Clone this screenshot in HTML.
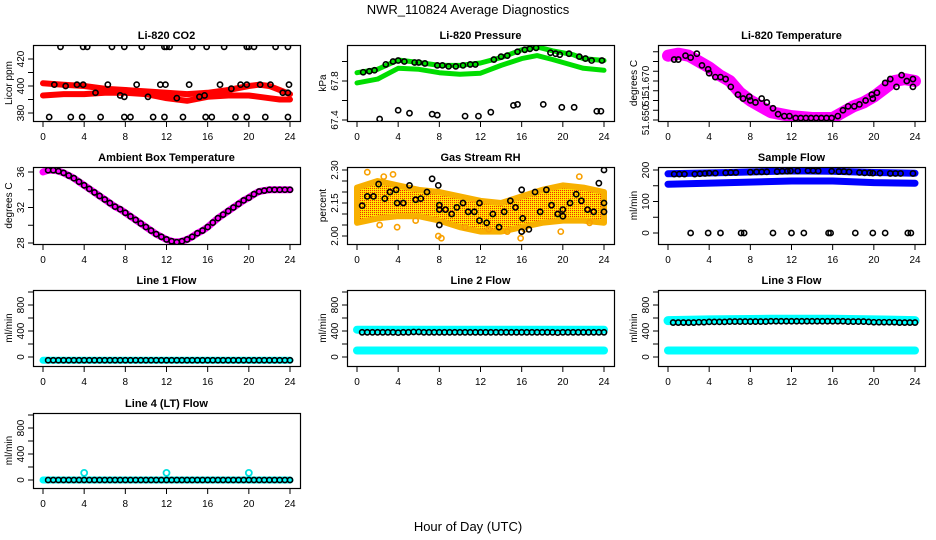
<!DOCTYPE html>
<html><head><meta charset="utf-8">
<style>
html,body{margin:0;padding:0;background:#fff;}
svg{display:block;font-family:"Liberation Sans",sans-serif;}
</style></head>
<body>
<svg id="chart" width="936" height="540" viewBox="0 0 936 540">
<defs>
<pattern id="rhpat" width="2" height="2" patternUnits="userSpaceOnUse">
<rect width="2" height="2" fill="#ffd800"/><rect width="1" height="1" fill="#f03000"/><rect x="1" y="1" width="1" height="1" fill="#ffee00"/>
</pattern>
</defs>
<text x="468" y="14" text-anchor="middle" font-size="13">NWR_110824  Average Diagnostics</text>
<text x="468" y="531" text-anchor="middle" font-size="13">Hour of Day (UTC)</text>
</svg>
<script>
// ---------- data ----------
const xTicks = [0,4,8,12,16,20,24];

const co2BandHours = [0,2,4,6,8,10,12,14,16,18,20,21,22,23,24];
const co2BandA = [402,401,400,398,397,396,395,394,395,397,400,401,400,397,394];
const co2BandB = [393,394,394,395,395,394,391,389,392,393,393,392,391,390,390];
const co2PtHours = [1.1,2.2,3.3,3.9,5.1,6.3,7.5,7.9,9.1,10.2,11.4,11.9,13,14.2,15.2,15.7,17.2,18.3,19.2,19.8,21.1,22.1,23.3,23.8,23.9,
  1.7,3.9,4.3,6.7,7.9,9.6,11.8,12,12.3,14.5,15.9,17.6,19.8,20,20.5,22.6,23.8,
  0.6,2.7,3.8,5.6,7.9,8.5,10.7,11.8,13.6,15.8,16.4,18.7,19.8,21.6,23.8];
const co2PtVals = [401,400,401,401,395,401,393,392,401,392,401,401,391,401,392,393,401,398,401,401,401,401,395,395,401,
  429,429,429,429,429,429,429,429,429,429,429,429,429,429,429,429,429,
  377,377,377,377,377,377,377,377,377,377,377,377,377,377,377];

const presBandHours = [0,2,4,6,8,10,12,14,16,17.5,19,21,22,24];
const presUpper = [67.885,67.92,68.015,67.99,67.96,67.96,67.985,68.04,68.12,68.15,68.11,68.07,68.03,68.01];
const presLower = [67.78,67.82,67.93,67.92,67.885,67.87,67.88,67.96,68.03,68.06,68.02,67.96,67.93,67.91];
const presPtHours = [0.6,1.2,1.7,2.8,3.5,4,4.6,5.6,6,6.6,7.8,8.3,8.9,9.6,10.3,11,11.5,13.3,14,14.6,15.6,16.3,16.8,17.4,18.8,19.3,19.7,20.6,21.6,22.2,22.8,23.8,
  2.2,4,5.1,7.3,7.8,10.5,11.8,13,15.2,15.6,18.1,19.9,21.1,23.3,23.7];
const presPtVals = [67.89,67.9,67.91,67.97,68.0,68.01,68.0,67.99,67.99,67.98,67.96,67.96,67.95,67.95,67.96,67.97,67.97,68.02,68.05,68.06,68.1,68.12,68.13,68.14,68.09,68.08,68.07,68.08,68.05,68.03,68.01,68.01,
  67.41,67.5,67.47,67.46,67.45,67.44,67.44,67.48,67.55,67.56,67.56,67.53,67.53,67.49,67.49];

const tempBandHours = [0,1,2,3,4,5,6,7,8,9,10,11,12,14,16,17,18,19,20,21,22,23,24];
const tempBand = [51.683,51.684,51.683,51.680,51.677,51.673,51.670,51.664,51.660,51.657,51.654,51.653,51.652,51.651,51.651,51.654,51.657,51.659,51.662,51.666,51.670,51.671,51.670];
const tempPtHours = [0.6,1,1.7,2.2,2.8,3.3,3.9,4,4.6,5.1,5.6,6.1,6.8,7.3,7.9,8,8.5,9.1,9.6,10.2,10.7,11.3,11.8,12.4,12.9,13.4,13.9,14.4,14.9,15.4,15.9,16.5,17,17.5,18.1,18.6,19.2,19.8,19.9,20.3,21.1,21.6,22.2,22.7,23.2,23.8,23.8];
const tempPtVals = [51.681,51.681,51.683,51.682,51.684,51.678,51.676,51.674,51.672,51.672,51.671,51.667,51.663,51.661,51.662,51.660,51.659,51.661,51.659,51.656,51.653,51.652,51.652,51.651,51.651,51.651,51.651,51.651,51.651,51.651,51.651,51.652,51.655,51.657,51.657,51.658,51.660,51.663,51.661,51.664,51.669,51.671,51.667,51.673,51.670,51.671,51.667];

const ambHours = [0,0.5,1,1.5,2,2.5,3,3.5,4,4.5,5,5.5,6,6.5,7,7.5,8,8.5,9,9.5,10,10.5,11,11.5,12,12.5,13,13.5,14,14.5,15,15.5,16,16.5,17,17.5,18,18.5,19,19.5,20,20.5,21,21.5,22,22.5,23,23.5,24];
const ambVals = [36.0,36.2,36.2,36.1,35.9,35.6,35.3,34.9,34.5,34.1,33.7,33.3,32.9,32.5,32.1,31.8,31.4,31.0,30.6,30.2,29.8,29.4,29.0,28.7,28.4,28.2,28.1,28.2,28.4,28.7,29.1,29.4,29.8,30.3,30.8,31.2,31.6,32.0,32.4,32.8,33.1,33.5,33.8,33.9,34.0,34.0,34.0,34.0,34.0];

const rhBandHours = [0,2,4,6,8,10,12,14,16,18,20,22,24];
const rhUpper = [2.22,2.25,2.23,2.21,2.2,2.18,2.16,2.15,2.18,2.21,2.23,2.22,2.2];
const rhLower = [2.06,2.08,2.09,2.09,2.07,2.04,2.02,2.02,2.04,2.06,2.07,2.07,2.06];
const rhOutHours = [1.0,2.6,3.5,3.9,5.7,7.9,8.2,10.5,12.8,14.6,15.9,16.3,19.8,21.6,22.6,23.9,2.2];
const rhOutVals = [2.29,2.27,2.28,2.04,2.07,2.0,1.99,2.04,2.03,2.02,1.99,2.03,2.02,2.27,2.06,2.12,2.05];
const rhPtHours = [0.5,1.0,1.6,2.1,2.7,3.2,3.8,3.9,4.5,5.1,5.7,6.2,6.8,7.3,7.9,8.0,8.0,8.0,8.6,9.2,9.7,10.3,10.8,11.4,11.9,11.9,12.6,13.2,13.8,14.3,14.9,15.4,16.0,16.1,16.0,16.7,17.3,17.8,18.4,18.9,19.5,20.0,20.0,20.7,21.3,21.8,22.4,23.0,23.5,24.0,24.0,24.0];
const rhPtVals = [2.138,2.18,2.18,2.236,2.17,2.2,2.21,2.15,2.15,2.23,2.165,2.17,2.2,2.26,2.23,2.14,2.12,2.05,2.12,2.1,2.13,2.15,2.11,2.11,2.15,2.07,2.06,2.1,2.04,2.11,2.16,2.13,2.21,2.08,2.02,2.03,2.2,2.11,2.21,2.14,2.10,2.09,2.12,2.15,2.19,2.16,2.12,2.11,2.24,2.30,2.15,2.11];

const flowBandHours = [0,6,12,16,20,24];
const flowUpper = [188,192,197,196,192,190];
const flowLower = [155,160,165,165,160,158];
const flowPtHours = [0.6,1.1,1.6,2.6,3.1,3.6,4.0,4.6,5.6,6.1,6.6,8.0,8.6,9.1,9.6,10.6,11.1,11.6,11.9,12.6,13.6,14.1,14.6,15.9,16.6,17.1,17.6,18.6,19.1,19.6,19.9,20.6,21.6,22.1,22.6,23.8,
  2.2,3.9,5.1,7.1,7.4,10.2,12,13.2,15.6,15.8,18.2,19.9,21.1,23.3,23.6];
const flowPtVals = [187,187,187,187,188,189,190,190,191,192,192,193,194,194,194,195,196,196,197,197,198,198,197,196,195,195,194,192,191,191,190,190,189,189,189,189,
  0,0,0,0,0,0,0,0,0,0,0,0,0,0,0];

const lineHours = [0.5,1,1.5,2,2.5,3,3.5,4,4.5,5,5.5,6,6.5,7,7.5,8,8.5,9,9.5,10,10.5,11,11.5,12,12.5,13,13.5,14,14.5,15,15.5,16,16.5,17,17.5,18,18.5,19,19.5,20,20.5,21,21.5,22,22.5,23,23.5,24];
const line1Cyan = [-50,-50];
const line1Black = [-50,-50,-50,-50,-50,-50,-50,-50,-50,-50,-50,-50,-50,-50,-50,-50,-50,-50,-50,-50,-50,-50,-50,-50,-50,-50,-50,-50,-50,-50,-50,-50,-50,-50,-50,-50,-50,-50,-50,-50,-50,-50,-50,-50,-50,-50,-50,-50];
const line2CyanUpper = [420,420];
const line2CyanLower = [100,100];
const line2Black = [380,380,380,380,380,380,380,375,380,380,385,385,380,380,380,380,380,380,380,380,380,380,380,380,380,380,380,380,380,380,380,380,380,380,380,380,380,380,375,380,380,380,380,380,380,380,380,380];
const line3CyanUpper = [560,570,580,580,570,560];
const line3CyanHours = [0,4,10,16,20,24];
const line3CyanLower = [100,100];
const line3Black = [530,530,530,530,530,535,535,540,540,540,540,545,545,545,545,545,545,545,545,550,550,550,550,550,550,550,550,550,550,550,550,550,550,550,545,545,545,545,540,535,535,535,535,535,530,530,530,530];
const line4Cyan = [0,0];
const line4OutHours = [4,12,20];
const line4OutVals = [110,110,110];
const line4Black = [0,0,0,0,0,0,0,0,0,0,0,0,0,0,0,0,0,0,0,0,0,0,0,0,0,0,0,0,0,0,0,0,0,0,0,0,0,0,0,0,0,0,0,0,0,0,0,0];

// ---------- layout ----------
const NS = "http://www.w3.org/2000/svg";
const svg = document.getElementById('chart');
const colLeft = [33,347,658], boxW = 267;
const rowTop = [45,167,290,413], rowBot = [121,244,366,488];

function mk(tag, attrs, parent){
  const e = document.createElementNS(NS, tag);
  for (const k in attrs) e.setAttribute(k, attrs[k]);
  (parent||svg).appendChild(e);
  return e;
}
function makePanel(col,row,title,ylab,v0,y0,v1,y1,ticks,labels,labelText,name){
  const L = colLeft[col], T = rowTop[row], B = rowBot[row];
  const g = mk('g',{});
  
  
  const P = {g, xs: h => L + 10 + h * (247/24), ys: v => y0 + (v - v0) * (y1 - y0) / (v1 - v0)};
  const clip = mk('clipPath',{id:'clip-'+name}, g);
  mk('rect',{x:L,y:T,width:boxW,height:B-T}, clip);
  P.plot = mk('g',{'clip-path':'url(#clip-'+name+')'}, g);
  const box = mk('rect',{x:L+0.5,y:T+0.5,width:boxW,height:B-T,fill:'none',stroke:'#000','stroke-width':1.2}, g);
  
  
  const t = mk('text',{x:L+boxW/2,y:T-6,'text-anchor':'middle','font-size':11,'font-weight':'bold'}, g);
  t.textContent = title;
  
  
  const yl = mk('text',{x:0,y:0,'text-anchor':'middle','font-size':10,transform:`translate(${L-21},${(T+B)/2}) rotate(-90)`}, g);
  yl.textContent = ylab;
  
  
  xTicks.forEach(h=>{
    const x = P.xs(h);
    mk('line',{x1:x,y1:B,x2:x,y2:B+6,stroke:'#000'}, g);
    const lt = mk('text',{x:x,y:B+19,'text-anchor':'middle','font-size':10}, g);
    lt.textContent = h;
    
    
  });
  ticks.forEach(v=>{
    const y = P.ys(v);
    mk('line',{x1:L-5,y1:y,x2:L,y2:y,stroke:'#000'}, g);
  });
  labels.forEach((v,i)=>{
    const y = P.ys(v);
    const lt = mk('text',{x:0,y:0,'text-anchor':'middle','font-size':10,transform:`translate(${L-9},${y}) rotate(-90)`}, g);
    lt.textContent = labelText[i];
    
    
  });
  return P;
}
function band(P,hours,vals,color,w,name){
  const d = vals.map((v,i)=>(i?'L':'M')+P.xs(hours[i]).toFixed(1)+','+P.ys(v).toFixed(1)).join(' ');
  const p = mk('path',{d:d,fill:'none',stroke:color,'stroke-width':w,'stroke-linecap':'round','stroke-linejoin':'round'}, P.plot);
  
  
}
function area(P,hours,up,lo,fill,name){
  let d = up.map((v,i)=>(i?'L':'M')+P.xs(hours[i]).toFixed(1)+','+P.ys(v).toFixed(1)).join(' ');
  for (let i=lo.length-1;i>=0;i--) d += ' L'+P.xs(hours[i]).toFixed(1)+','+P.ys(lo[i]).toFixed(1);
  const p = mk('path',{d:d+' Z',fill:fill,stroke:'#f8b000','stroke-width':6,'stroke-linejoin':'round'}, P.plot);
  
  
}
function pts(P,hours,vals,color,r,sw,name){
  vals.forEach((v,i)=>{
    const c = mk('circle',{cx:P.xs(hours[i]),cy:P.ys(v),r:r,fill:'none',stroke:color,'stroke-width':sw}, P.plot);
    
    
  });
}

// ---------- panels ----------
let P;
P = makePanel(0,0,'Li-820 CO2','Licor ppm',380,113,420,59,[380,390,400,410,420],[380,400,420],['380','400','420'],'co2-panel');
band(P,co2BandHours,co2BandA,'#ff0000',6,'co2-band-upper');
band(P,co2BandHours,co2BandB,'#ff0000',6,'co2-band-lower');
pts(P,co2PtHours,co2PtVals,'#000',2.6,1.6,'co2-point');

P = makePanel(1,0,'Li-820 Pressure','kPa',67.4,120,67.8,81,[67.4,67.6,67.8,68.0],[67.4,67.8],['67.4','67.8'],'pressure-panel');
band(P,presBandHours,presUpper,'#00dd00',5,'pressure-band-upper');
band(P,presBandHours,presLower,'#00dd00',5,'pressure-band-lower');
pts(P,presPtHours,presPtVals,'#000',2.6,1.6,'pressure-point');

P = makePanel(2,0,'Li-820 Temperature','degrees C',51.650,120,51.670,81,[51.650,51.655,51.660,51.665,51.670,51.675,51.680,51.685],[51.650,51.660,51.670],['51.650','51','51.670'],'temperature-panel');
band(P,tempBandHours,tempBand,'#ff00ff',12,'temperature-band');
pts(P,tempPtHours,tempPtVals,'#000',2.6,1.6,'temperature-point');

P = makePanel(0,1,'Ambient Box Temperature','degrees C',28,243,36,172,[28,30,32,34,36],[28,32,36],['28','32','36'],'ambient-panel');
band(P,ambHours,ambVals,'#ff00ff',7,'ambient-band');
pts(P,ambHours.slice(1),ambVals.slice(1),'#000',2.6,1.6,'ambient-point');

P = makePanel(1,1,'Gas Stream RH','percent',2.00,236,2.30,170,[2.00,2.05,2.10,2.15,2.20,2.25,2.30],[2.00,2.15,2.30],['2.00','2.15','2.30'],'rh-panel');
area(P,rhBandHours,rhUpper,rhLower,'url(#rhpat)','rh-cloud');
pts(P,rhOutHours,rhOutVals,'#f8a000',2.6,1.6,'rh-outlier');
pts(P,rhPtHours,rhPtVals,'#000',2.6,1.6,'rh-point');

P = makePanel(2,1,'Sample Flow','ml/min',0,233,200,170,[0,50,100,150,200],[0,100,200],['0','100','200'],'sample-flow-panel');
band(P,flowBandHours,flowUpper,'#0000ff',7,'sample-flow-band-upper');
band(P,flowBandHours,flowLower,'#0000ff',7,'sample-flow-band-lower');
pts(P,flowPtHours,flowPtVals,'#000',2.6,1.6,'sample-flow-point');

const flowTicks = [0,200,400,600,800,1000];
P = makePanel(0,2,'Line 1 Flow','ml/min',0,357,800,305,flowTicks,[0,400,800],['0','400','800'],'line1-panel');
band(P,[0,24],line1Cyan,'#00ffff',7,'line1-band');
pts(P,lineHours,line1Black,'#000',2.6,1.6,'line1-point');

P = makePanel(1,2,'Line 2 Flow','ml/min',0,357,800,305,flowTicks,[0,400,800],['0','400','800'],'line2-panel');
band(P,[0,24],line2CyanUpper,'#00ffff',8,'line2-band-upper');
band(P,[0,24],line2CyanLower,'#00ffff',8,'line2-band-lower');
pts(P,lineHours,line2Black,'#000',2.6,1.6,'line2-point');

P = makePanel(2,2,'Line 3 Flow','ml/min',0,357,800,305,flowTicks,[0,400,800],['0','400','800'],'line3-panel');
band(P,line3CyanHours,line3CyanUpper,'#00ffff',9,'line3-band-upper');
band(P,[0,24],line3CyanLower,'#00ffff',8,'line3-band-lower');
pts(P,lineHours,line3Black,'#000',2.6,1.6,'line3-point');

P = makePanel(0,3,'Line 4 (LT) Flow','ml/min',0,480,800,428,flowTicks,[0,400,800],['0','400','800'],'line4-panel');
band(P,[0,24],line4Cyan,'#00ffff',7,'line4-band');
pts(P,line4OutHours,line4OutVals,'#00e0e0',3,1.8,'line4-outlier');
pts(P,lineHours,line4Black,'#000',2.6,1.6,'line4-point');
</script>
</body></html>
